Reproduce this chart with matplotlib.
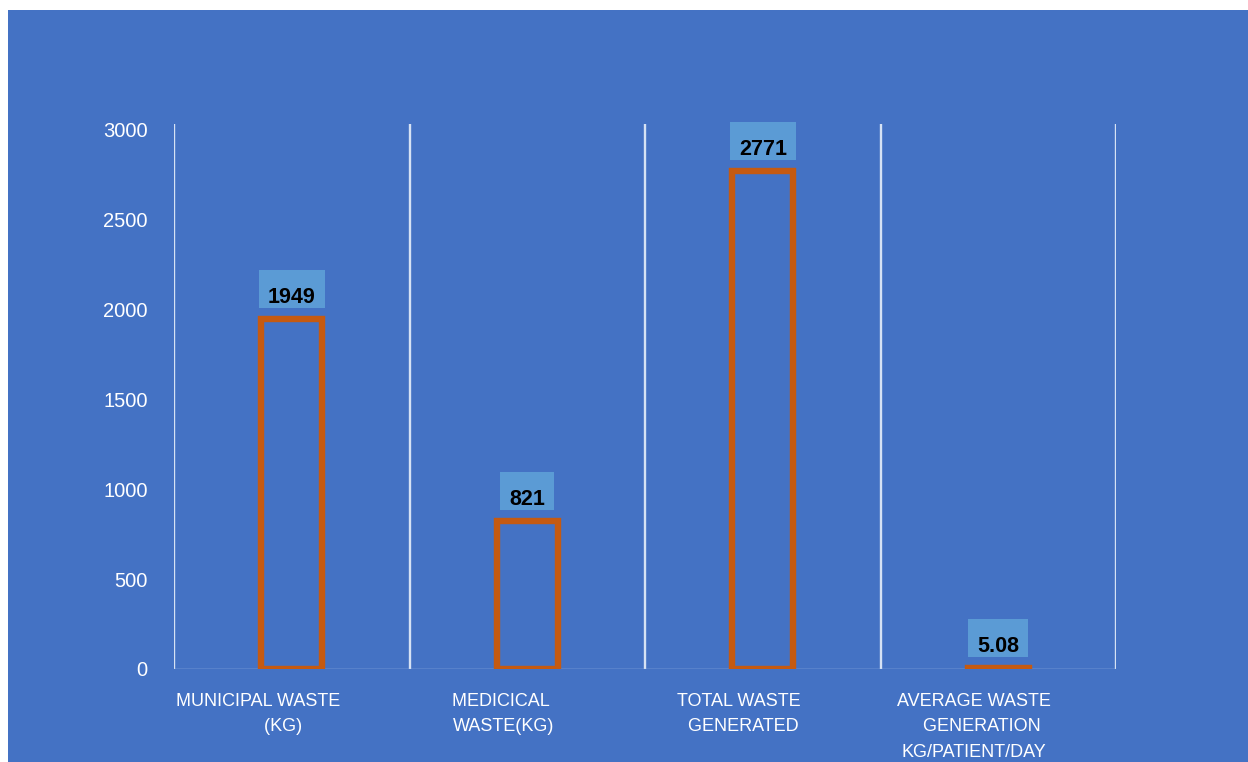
import matplotlib.pyplot as plt
from matplotlib.patches import Rectangle
from matplotlib.transforms import ScaledTranslation, IdentityTransform

BG_BLUE = "#4472C4"
BAR_EDGE = "#C55A11"
LABEL_BOX = "#5B9BD5"
GRID = "#D6E2F4"

categories = [
    "MUNICIPAL WASTE    \n      (KG)",
    "MEDICICAL \nWASTE(KG)",
    "TOTAL WASTE\n  GENERATED",
    "AVERAGE WASTE\n   GENERATION\nKG/PATIENT/DAY",
]
values = [1949, 821, 2771, 5.08]
value_labels = ["1949", "821", "2771", "5.08"]
yticks = [0, 500, 1000, 1500, 2000, 2500, 3000]

plt.rcParams["font.family"] = ["Liberation Sans", "DejaVu Sans"]

fig = plt.figure(figsize=(12.48, 7.62), dpi=100)
fig.patch.set_facecolor("white")
# blue panel behind the chart
fig.patches.append(
    Rectangle((8 / 1248, 0), 1 - 8 / 1248, 1 - 10 / 762,
              transform=fig.transFigure, facecolor=BG_BLUE, edgecolor="none", zorder=-5)
)

ax = fig.add_axes([174 / 1248, 1 - 669 / 762, (1116 - 174) / 1248, (669 - 124) / 762])
ax.set_facecolor("none")
ax.set_zorder(2)
ax.set_xlim(-0.5, len(categories) - 0.5)
ax.set_ylim(0, 3031)

x = list(range(len(categories)))
ax.bar(x, values, width=0.26, facecolor="none", edgecolor=BAR_EDGE, linewidth=4.6, zorder=3)

value_texts = []
for xi, v, lab in zip(x, values, value_labels):
    t = ax.annotate(lab, (xi, v), xytext=(0, 11.5), textcoords="offset points",
                    ha="center", va="baseline", fontsize=15.5, fontweight="bold",
                    color="black", zorder=5)
    value_texts.append(t)

# vertical separators between categories
for b in range(len(categories) + 1):
    ax.axvline(b - 0.5, color=GRID, linewidth=1.7, zorder=1)
ax.axhline(0, color="#A9C0E8", linewidth=1.0, zorder=2)

for s in ax.spines.values():
    s.set_visible(False)

ax.set_yticks(yticks)
ax.set_yticklabels([str(t) for t in yticks])
ax.tick_params(axis="y", length=0, pad=19, labelsize=14.5, labelcolor="white")
ax.set_xticks(x)
ax.set_xticklabels(categories, multialignment="center", linespacing=1.65)
ax.tick_params(axis="x", length=0, pad=17, labelsize=13, labelcolor="white")

shift = ScaledTranslation(-0.24, 0, fig.dpi_scale_trans)
for t in ax.get_xticklabels():
    t.set_transform(t.get_transform() + shift)

# label boxes sized from the rendered text, taller above than below
fig.canvas.draw()
renderer = fig.canvas.get_renderer()
for t in value_texts:
    bb = t.get_window_extent(renderer)
    box = Rectangle((bb.x0 - 9, bb.y0), bb.width + 18, bb.height + 17,
                    transform=IdentityTransform(), facecolor=LABEL_BOX,
                    edgecolor="none", zorder=4, clip_on=False)
    ax.add_artist(box)

fig.savefig("out.png", dpi=100, facecolor=fig.get_facecolor())
